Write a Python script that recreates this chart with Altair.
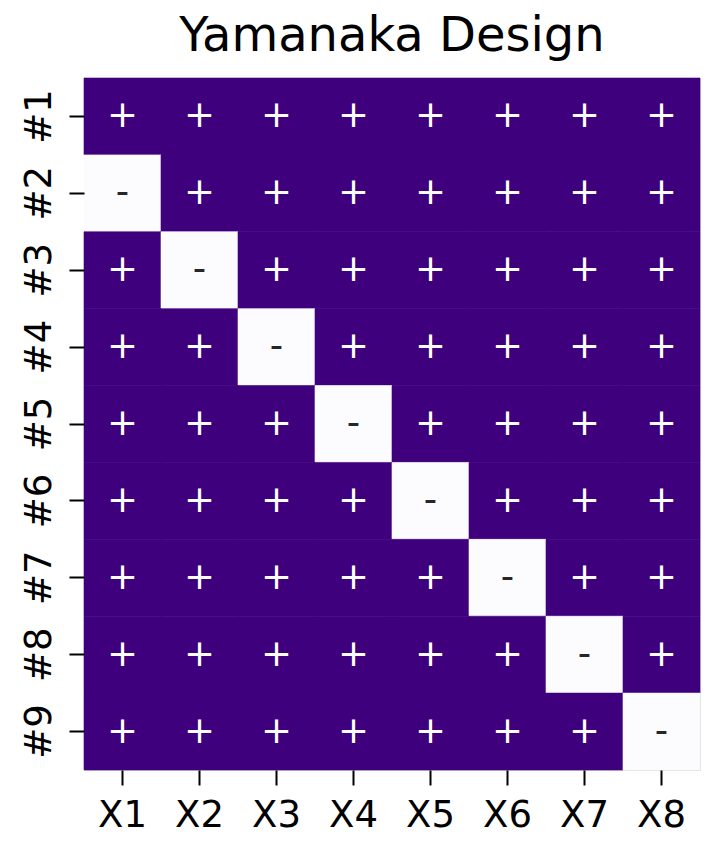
import altair as alt
import pandas as pd

rows = ["#1", "#2", "#3", "#4", "#5", "#6", "#7", "#8", "#9"]
cols = ["X1", "X2", "X3", "X4", "X5", "X6", "X7", "X8"]
signs = [
    "++++++++",
    "-+++++++",
    "+-++++++",
    "++-+++++",
    "+++-++++",
    "++++-+++",
    "+++++-++",
    "++++++-+",
    "+++++++-",
]

records = []
for r, row in zip(rows, signs):
    for c, s in zip(cols, row):
        records.append({"row": r, "col": c, "sign": s, "val": 1 if s == "+" else -1})
df = pd.DataFrame(records)

FONT = "DejaVu Sans"

base = alt.Chart(df).encode(
    x=alt.X("col:N", sort=cols, title=None,
            scale=alt.Scale(paddingInner=0, paddingOuter=0),
            axis=alt.Axis(labelAngle=0, labelFontSize=37, labelFont=FONT,
                          labelColor="black", tickSize=15, tickWidth=2,
                          tickColor="black", labelPadding=12, domain=False,
                          labelBaseline="top")),
    y=alt.Y("row:N", sort=rows, title=None,
            scale=alt.Scale(paddingInner=0, paddingOuter=0),
            axis=alt.Axis(labelAngle=270, labelFontSize=37, labelFont=FONT,
                          labelColor="black", tickSize=15, tickWidth=2,
                          tickColor="black", labelPadding=19, domain=False,
                          labelAlign="center", labelBaseline="alphabetic")),
)

cscale = alt.Scale(domain=[-1, 1], range=["#fcfbfd", "#3f007d"])
rect = base.mark_rect(strokeWidth=0.6).encode(
    color=alt.Color("val:Q", legend=None, scale=cscale),
    stroke=alt.Stroke("val:Q", legend=None, scale=cscale),
)

text = base.mark_text(fontSize=37, font=FONT, baseline="middle", align="center").encode(
    text="sign:N",
    color=alt.Color("sign:N", legend=None,
                    scale=alt.Scale(domain=["+", "-"], range=["#ffffff", "#262626"])),
)

chart = (rect + text).resolve_scale(color="independent").properties(
    width=616, height=692,
    title=alt.TitleParams("Yamanaka Design", fontSize=48, font=FONT, fontWeight="normal",
                          color="black", anchor="middle", offset=-21,
                          baseline="alphabetic"),
    autosize=alt.AutoSizeParams(type="none"),
    padding={"left": 84, "top": 78, "right": 15, "bottom": 85},
).configure_view(stroke=None).configure(background="white")

chart.save("out.html", embed_options={"renderer": "svg", "actions": False})
